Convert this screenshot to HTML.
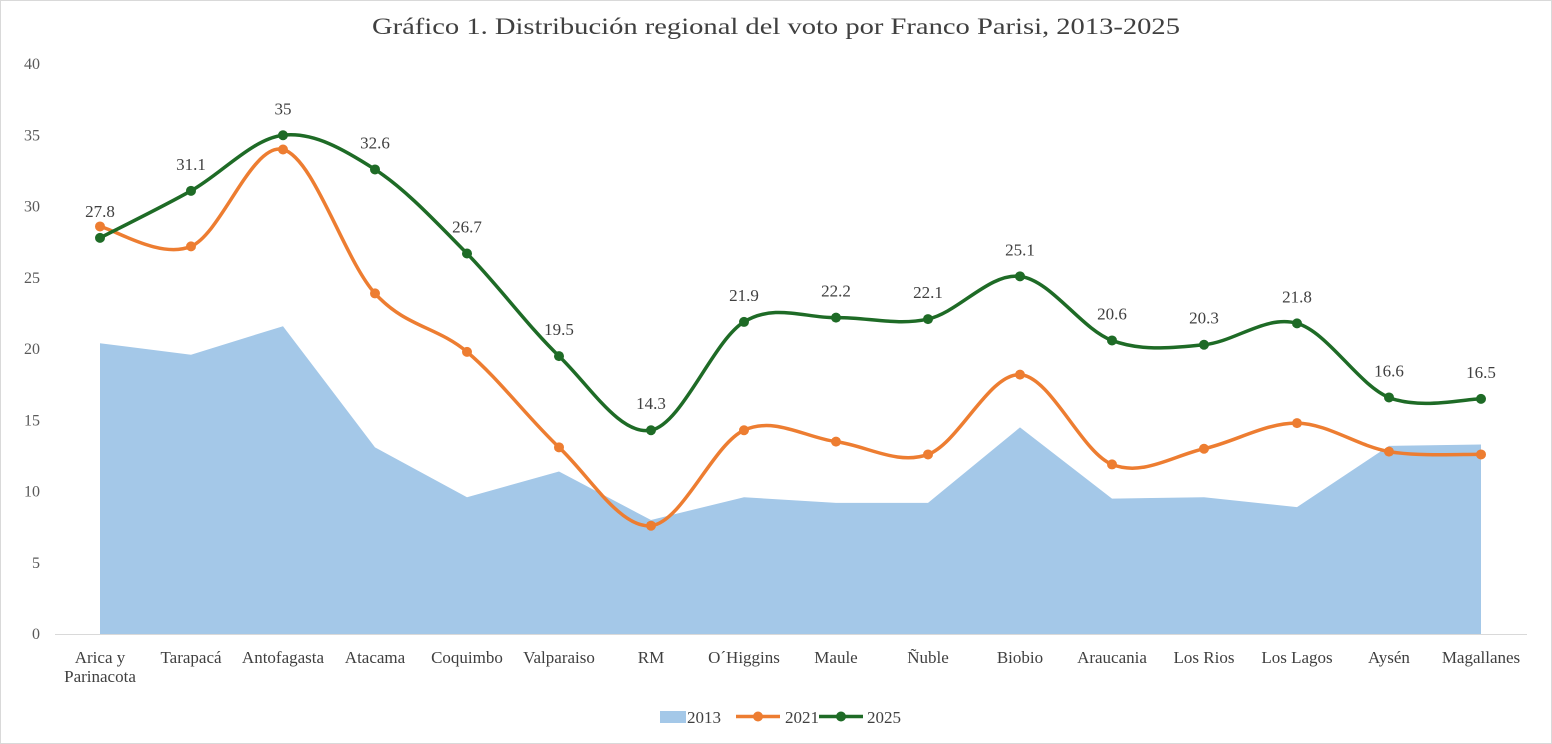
<!DOCTYPE html>
<html><head><meta charset="utf-8"><style>
body{margin:0;background:#fff}
svg{display:block;font-family:"Liberation Serif",serif}
</style></head><body>
<svg id="s" width="1552" height="744" viewBox="0 0 1552 744">
<rect x="0.5" y="0.5" width="1551" height="743" fill="#fff" stroke="#d9d9d9"/>
<text x="372" y="34" textLength="808" lengthAdjust="spacingAndGlyphs" font-size="23" fill="#404040">Gráfico 1. Distribución  regional  del voto por Franco Parisi, 2013-2025</text>
<g id="g"></g>
</svg>
<script>
const X=[100,191,283,375,467,559,651,744,836,928,1020,1112,1204,1297,1389,1481];
const Y=v=>634-v*14.25;
const a13=[20.4,19.6,21.6,13.1,9.6,11.4,8.0,9.6,9.2,9.2,14.5,9.5,9.6,8.9,13.2,13.3];
const a21=[28.6,27.2,34.0,23.9,19.8,13.1,7.6,14.3,13.5,12.6,18.2,11.9,13.0,14.8,12.8,12.6];
const a25=[27.8,31.1,35,32.6,26.7,19.5,14.3,21.9,22.2,22.1,25.1,20.6,20.3,21.8,16.6,16.5];
const names=[["Arica y","Parinacota"],["Tarapacá"],["Antofagasta"],["Atacama"],["Coquimbo"],["Valparaiso"],["RM"],["O´Higgins"],["Maule"],["Ñuble"],["Biobio"],["Araucania"],["Los Rios"],["Los Lagos"],["Aysén"],["Magallanes"]];
function smooth(v){const p=v.map((y,i)=>[X[i],Y(y)]);let d=`M${p[0][0]},${p[0][1]}`;
for(let i=0;i<p.length-1;i++){const p0=p[i-1]||p[i],p1=p[i],p2=p[i+1],p3=p[i+2]||p[i+1];const t=1/6;
d+=` C${p1[0]+(p2[0]-p0[0])*t},${p1[1]+(p2[1]-p0[1])*t} ${p2[0]-(p3[0]-p1[0])*t},${p2[1]-(p3[1]-p1[1])*t} ${p2[0]},${p2[1]}`;}return d;}
let h='';
[40,35,30,25,20,15,10,5,0].forEach(v=>{h+=`<text x="40" y="${Y(v)+5}" text-anchor="end" font-size="16" fill="#595959">${v}</text>`});
h+=`<path d="M${X[0]},634 `+a13.map((v,i)=>`L${X[i]},${Y(v)}`).join(' ')+` L${X[15]},634Z" fill="#a4c8e8"/>`;
h+=`<line x1="55" y1="634.5" x2="1527" y2="634.5" stroke="#d9d9d9"/>`;
h+=`<path d="${smooth(a21)}" fill="none" stroke="#ed7d31" stroke-width="3.5"/>`;
a21.forEach((v,i)=>h+=`<circle cx="${X[i]}" cy="${Y(v)}" r="5" fill="#ed7d31"/>`);
h+=`<path d="${smooth(a25)}" fill="none" stroke="#1e6b26" stroke-width="3.5"/>`;
a25.forEach((v,i)=>{h+=`<circle cx="${X[i]}" cy="${Y(v)}" r="5" fill="#1e6b26"/>`;h+=`<text x="${X[i]}" y="${Y(v)-21}" text-anchor="middle" font-size="17" fill="#404040">${v}</text>`});
names.forEach((n,i)=>n.forEach((t,j)=>h+=`<text x="${X[i]}" y="${663+j*19}" text-anchor="middle" font-size="17" fill="#404040">${t}</text>`));
h+=`<rect x="660" y="711" width="26" height="12" fill="#a4c8e8"/><text x="687" y="723" font-size="17" fill="#404040">2013</text>`;
h+=`<line x1="736" y1="716.5" x2="780" y2="716.5" stroke="#ed7d31" stroke-width="3.5"/><circle cx="758" cy="716.5" r="5" fill="#ed7d31"/><text x="785" y="723" font-size="17" fill="#404040">2021</text>`;
h+=`<line x1="819" y1="716.5" x2="863" y2="716.5" stroke="#1e6b26" stroke-width="3.5"/><circle cx="841" cy="716.5" r="5" fill="#1e6b26"/><text x="867" y="723" font-size="17" fill="#404040">2025</text>`;
document.getElementById('g').innerHTML=h;
</script>
</body></html>
